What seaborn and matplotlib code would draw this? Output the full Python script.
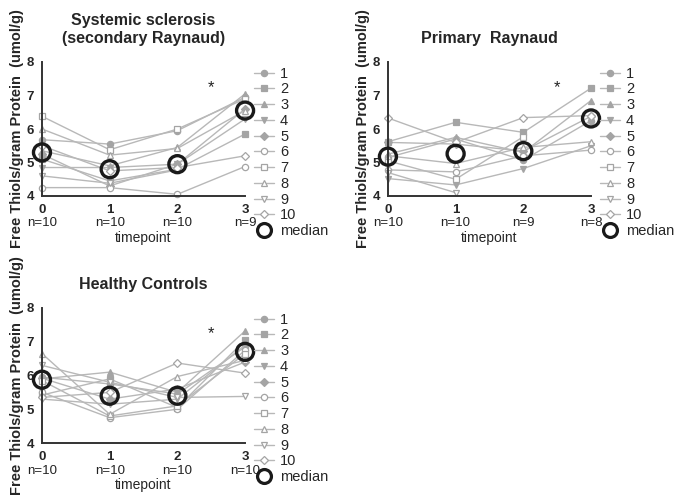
import numpy as np
import pandas as pd
import matplotlib
matplotlib.use('Agg')
import matplotlib.pyplot as plt
import matplotlib.transforms as mtransforms
from matplotlib.lines import Line2D
import seaborn as sns

sns.set_style('white')
plt.rcParams['font.family'] = ['Liberation Sans', 'DejaVu Sans']

# Data
timepoints = [0, 1, 2, 3]
subjects = ['1', '2', '3', '4', '5', '6', '7', '8', '9', '10']
nan = np.nan

ssc_values = {
    '1': [5.68, 5.55, 5.95, 6.95],
    '2': [5.10, 4.45, 4.80, 5.85],
    '3': [5.35, 4.90, 5.45, 7.05],
    '4': [4.85, 4.85, 4.95, 6.30],
    '5': [5.25, 4.30, 4.95, 6.60],
    '6': [4.25, 4.25, 4.05, 4.88],
    '7': [6.38, 5.38, 6.00, 6.90],
    '8': [6.00, 5.22, 5.42, 6.55],
    '9': [4.60, 4.38, 4.78, nan],
    '10': [5.50, 4.75, 4.85, 5.20],
}
ssc_n = ['n=10', 'n=10', 'n=10', 'n=9']

pr_values = {
    '1': [5.15, 5.70, 5.07, 6.25],
    '2': [5.62, 6.20, 5.90, 7.22],
    '3': [5.25, 5.75, 5.30, 6.85],
    '4': [4.52, 4.33, 4.82, 5.50],
    '5': [5.60, 5.55, 5.34, 6.38],
    '6': [4.78, 4.72, 5.20, 5.37],
    '7': [5.05, 4.50, 5.77, nan],
    '8': [5.20, 4.97, 5.45, 5.62],
    '9': [4.70, 4.10, nan, nan],
    '10': [6.33, 5.60, 6.34, 6.40],
}
pr_n = ['n=10', 'n=10', 'n=9', 'n=8']

hc_values = {
    '1': [5.95, 5.75, 5.45, 6.85],
    '2': [5.42, 5.90, 5.05, 7.05],
    '3': [5.90, 6.10, 5.50, 7.32],
    '4': [5.30, 5.15, 5.30, 6.90],
    '5': [5.92, 5.30, 5.60, 6.40],
    '6': [5.50, 4.75, 5.00, 6.75],
    '7': [5.85, 4.80, 5.10, 6.65],
    '8': [6.65, 4.85, 5.97, 6.45],
    '9': [6.30, 5.80, 5.35, 5.38],
    '10': [5.35, 5.50, 6.37, 6.07],
}
hc_n = ['n=10', 'n=10', 'n=10', 'n=10']

marker_map = {'1': 'o', '2': 's', '3': '^', '4': 'v', '5': 'D',
              '6': 'o', '7': 's', '8': '^', '9': 'v', '10': 'D'}
filled = {'1', '2', '3', '4', '5'}

line_grey = '#b8b8b8'
mark_grey = '#a4a4a4'


def to_long(values):
    rows = []
    for s in subjects:
        for t, v in zip(timepoints, values[s]):
            rows.append({'subject': s, 'timepoint': t, 'thiols': v})
    return pd.DataFrame(rows).dropna()


def draw_panel(ax, values, n_labels, title):
    df = to_long(values)
    for s in subjects:
        sub = df[df['subject'] == s]
        fc = mark_grey if s in filled else 'white'
        ms = 4 if marker_map[s] == 'D' else 4.5
        sns.lineplot(data=sub, x='timepoint', y='thiols', ax=ax, estimator=None,
                     color=line_grey, lw=1.0, marker=marker_map[s], markersize=ms,
                     markerfacecolor=fc, markeredgecolor=mark_grey,
                     markeredgewidth=0.9, clip_on=False, legend=False)
    med = df.groupby('timepoint')['thiols'].median().reset_index()
    sns.scatterplot(data=med, x='timepoint', y='thiols', ax=ax, s=150,
                    facecolor='none', edgecolor='#1a1a1a', linewidth=2.4,
                    clip_on=False, zorder=5, legend=False)

    ax.set_xlim(0, 3)
    ax.set_ylim(4, 8)
    ax.set_xticks(timepoints)
    ax.set_xticklabels([str(t) for t in timepoints], fontweight='bold', fontsize=9.5)
    ax.set_yticks([4, 5, 6, 7, 8])
    ax.set_yticklabels(['4', '5', '6', '7', '8'], fontweight='bold', fontsize=9.5)
    ax.tick_params(axis='both', direction='out', length=4, width=1.3,
                   color='#333333', pad=1.5)
    for side in ['top', 'right']:
        ax.spines[side].set_visible(False)
    for side in ['left', 'bottom']:
        ax.spines[side].set_color('#333333')
        ax.spines[side].set_linewidth(1.4)

    trans = mtransforms.blended_transform_factory(ax.transData, ax.transAxes)
    for t, lab in zip(timepoints, n_labels):
        ax.text(t, -0.205, lab, transform=trans, ha='center', va='center',
                fontsize=9.5, color='#222222')
    ax.text(2.5, 7.25, '*', ha='center', va='center', fontsize=12, color='#222222')

    ax.set_xlabel('timepoint', fontsize=10, labelpad=11)
    ax.set_ylabel('Free Thiols/gram Protein  (umol/g)', fontsize=10.5,
                  fontweight='bold', labelpad=2)
    ax.set_title(title, fontsize=11.5, fontweight='bold', pad=14, linespacing=1.25)

    handles = []
    for s in subjects:
        fc = mark_grey if s in filled else 'white'
        handles.append(Line2D([0], [0], color=line_grey, lw=1.0, marker=marker_map[s],
                              markersize=4.5, markerfacecolor=fc,
                              markeredgecolor=mark_grey, markeredgewidth=0.9))
    handles.append(Line2D([0], [0], color='none', marker='o', markersize=10,
                          markerfacecolor='none', markeredgecolor='#1a1a1a',
                          markeredgewidth=2.3))
    ax.legend(handles, subjects + ['median'], loc='upper left',
              bbox_to_anchor=(1.0, 1.03), frameon=False, fontsize=10.5,
              handlelength=1.4, handletextpad=0.4, labelspacing=0.12,
              borderaxespad=0.2)


fig = plt.figure(figsize=(6.77, 5.0), dpi=100)
ax1 = fig.add_axes([0.062, 0.608, 0.300, 0.268])
ax2 = fig.add_axes([0.573, 0.608, 0.300, 0.268])
ax3 = fig.add_axes([0.062, 0.114, 0.300, 0.270])

draw_panel(ax1, ssc_values, ssc_n, 'Systemic sclerosis\n(secondary Raynaud)')
draw_panel(ax2, pr_values, pr_n, 'Primary  Raynaud')
draw_panel(ax3, hc_values, hc_n, 'Healthy Controls')

fig.savefig('out.png', dpi=100)
